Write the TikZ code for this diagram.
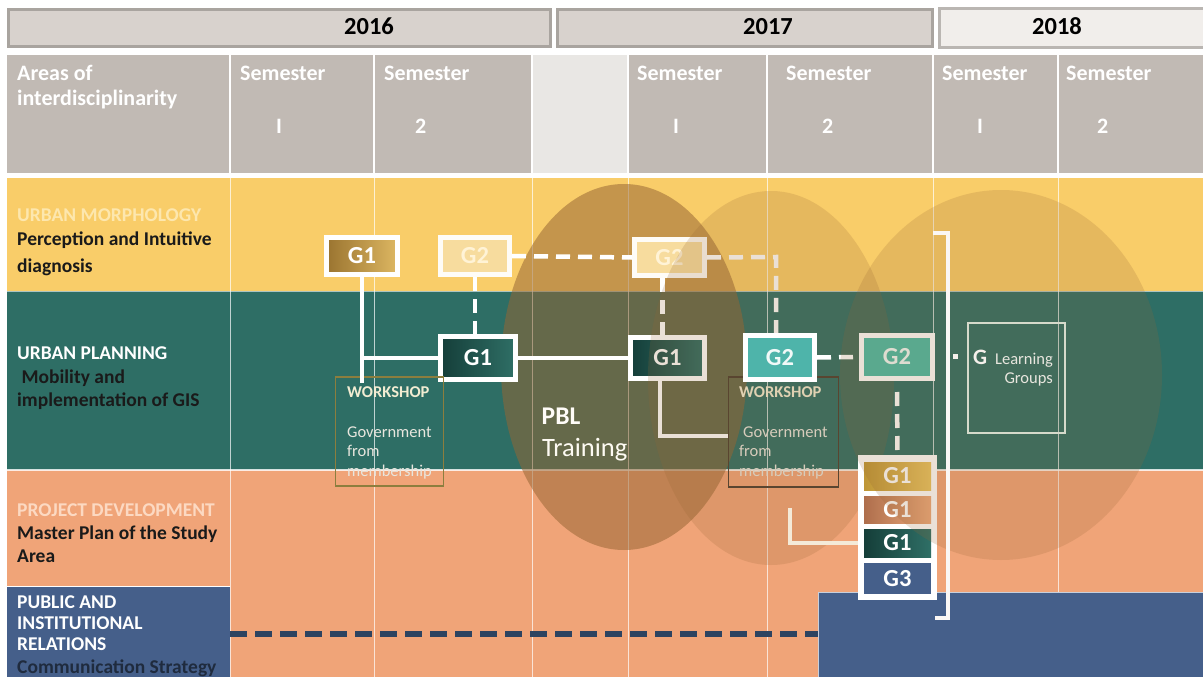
\documentclass[tikz,border=0pt]{standalone}
\usepackage{fontspec}
\setmainfont{Carlito}
\definecolor{yel}{HTML}{F9CD69}
\definecolor{tealrow}{HTML}{2E6E65}
\definecolor{salm}{HTML}{F0A478}
\definecolor{navy}{HTML}{455F8A}
\definecolor{dashnavy}{HTML}{2D4360}
\definecolor{hdrgray}{HTML}{C1BAB4}
\definecolor{hdrlight}{HTML}{E9E7E4}
\definecolor{yearfill}{HTML}{D8D2CD}
\definecolor{yearline}{HTML}{A9A49F}
\definecolor{yearfillb}{HTML}{F1EEEB}
\definecolor{ebrown}{HTML}{966533}
\definecolor{morph}{HTML}{FDE7AE}
\definecolor{projd}{HTML}{FCD9C2}
\definecolor{darktxt}{HTML}{1A1A1A}
\definecolor{commtxt}{HTML}{1F2B3E}
\definecolor{g2light}{HTML}{F7DC9E}
\definecolor{g2txt}{HTML}{FFF3D6}
\definecolor{goldA}{HTML}{9A7430}
\definecolor{goldB}{HTML}{DDB762}
\definecolor{dtealA}{HTML}{153E39}
\definecolor{dtealB}{HTML}{2F6F66}
\definecolor{lteal}{HTML}{4EB4AA}
\definecolor{lteal2}{HTML}{4CBBA5}
\definecolor{sgoldA}{HTML}{BE9636}
\definecolor{sgoldB}{HTML}{EAC562}
\definecolor{sbrA}{HTML}{AE6E4C}
\definecolor{sbrB}{HTML}{EDAA7C}
\definecolor{wsA}{HTML}{8C7E3E}
\definecolor{wsB}{HTML}{4A3E30}
\definecolor{wstxt}{HTML}{F2ECD2}
\definecolor{wsgov}{HTML}{E8E6DE}
\definecolor{lgline}{HTML}{D6DACB}
\definecolor{cream}{HTML}{F4EAD8}

\newcommand\myfs[1]{\fontsize{#1}{#1}\selectfont}

\begin{document}
\begin{tikzpicture}[x=1pt,y=-1pt,
 txt/.style={anchor=base west, inner sep=0pt},
 yr/.style={anchor=base, inner sep=0pt, font={\bfseries\myfs{24.5}}, text=black},
 hd/.style={txt, font={\bfseries\myfs{22}}, text=white},
 rl/.style={txt, font={\bfseries\myfs{19.5}}},
 gbox/.style={draw=white, line width=5pt, inner sep=0pt, text=white, font={\bfseries\myfs{24.5}}},
 cell/.style={inner sep=0pt, text=white, font={\bfseries\myfs{24.5}}, minimum width=67pt},
 solidc/.style={draw=white, line width=4pt},
 dashc/.style={draw=white, line width=4.5pt, dash pattern=on 14pt off 8pt},
 vline/.style={draw=white, line width=1pt, opacity=.7},
 wtxt/.style={txt, font={\bfseries\myfs{16.5}}, text=wstxt},
 gtxt/.style={txt, font={\myfs{16.5}}, text=wsgov},
 wbox/.style={line width=1.3pt, inner sep=0pt},
]
\fill[white] (0,0) rectangle (1203,677);
\useasboundingbox (0,0) rectangle (1203,677);

% year bar
\filldraw[fill=yearfill, draw=yearline, line width=3pt] (8.5,9.5) rectangle (550.5,46.5);
\filldraw[fill=yearfill, draw=yearline, line width=3pt] (557.5,9.5) rectangle (932.5,46.5);
\filldraw[fill=yearfillb, draw=yearline!80, line width=3pt] (939.5,8.5) rectangle (1210,47.5);
\node[yr] (y16) at (369,35) {2016};
\node[yr] (y17) at (768,35) {2017};
\node[yr] (y18) at (1057,35) {2018};

% header
\fill[hdrgray] (7,55) rectangle (1203,173);
\fill[hdrlight] (532,55) rectangle (628,173);
\foreach \x in {230,374,532,628,767,933,1058} \draw[white, line width=2pt] (\x,55) -- (\x,173);
\node[hd] (h1) at (17,81) {Areas of};
\node[hd] (h2) at (17,106) {interdisciplinarity};
\node[hd] (s1a) at (240,81) {Semester};
\node[hd] (s1b) at (276,133) {I};
\node[hd] (s2a) at (384,81) {Semester};
\node[hd] (s2b) at (415,133) {2};
\node[hd] (s3a) at (637,81) {Semester};
\node[hd] (s3b) at (673,133) {I};
\node[hd] (s4a) at (786,81) {Semester};
\node[hd] (s4b) at (822,133) {2};
\node[hd] (s5a) at (942,81) {Semester};
\node[hd] (s5b) at (977,133) {I};
\node[hd] (s6a) at (1066,81) {Semester};
\node[hd] (s6b) at (1097,133) {2};

% rows
\fill[yel] (7,178) rectangle (1203,291);
\fill[tealrow] (7,291) rectangle (1203,470);
\fill[salm] (7,470) rectangle (1203,677);
\fill[navy] (7,587) rectangle (230,677);
\draw[white, line width=1pt, opacity=.6] (7,291.5) -- (1203,291.5);
\draw[white, line width=1.2pt, opacity=.8] (7,470) -- (1203,470);
\draw[white, line width=1pt] (7,586) -- (230,586);
\foreach \x in {230,374,532,628,767,933,1058} \draw[vline] (\x,178) -- (\x,677);
\filldraw[fill=navy, draw=white!70!navy, line width=1pt] (818,592) rectangle (1210,680);

% row labels
\node[rl, text=morph] (r1a) at (17,221) {URBAN MORPHOLOGY};
\node[rl, text=darktxt] (r1b) at (17,245) {Perception and Intuitive};
\node[rl, text=darktxt] (r1c) at (17,272) {diagnosis};
\node[rl, text=white] (r2a) at (17,359) {URBAN PLANNING};
\node[rl, text=darktxt] (r2b) at (17,383) {\ Mobility and};
\node[rl, text=darktxt] (r2c) at (17,406) {implementation of GIS};
\node[rl, text=projd] (r3a) at (17,516) {PROJECT DEVELOPMENT};
\node[rl, text=darktxt] (r3b) at (17,539) {Master Plan of the Study};
\node[rl, text=darktxt] (r3c) at (17,562) {Area};
\node[rl, text=white] (r4a) at (17,608) {PUBLIC AND};
\node[rl, text=white] (r4b) at (17,629) {INSTITUTIONAL};
\node[rl, text=white] (r4c) at (17,650) {RELATIONS};
\node[rl, text=commtxt] (r4d) at (17,673) {Communication Strategy};

% dashed navy line
\coordinate (j5) at (230,634);
\coordinate (pubw) at (818,634);
\draw[dashnavy, line width=5.5pt, dash pattern=on 17pt off 8pt] (j5) -- (pubw);

% ellipse 1
\fill[ebrown, opacity=.53] (624,367) ellipse [x radius=123pt, y radius=183pt];

% boxes
\node[gbox, minimum width=71pt, minimum height=37pt, left color=goldA, right color=goldB] (g1a) at (362,256) {G1};
\node[gbox, minimum width=69pt, minimum height=37pt, fill=g2light, draw=white!92!g2light, text=g2txt] (g2a) at (475,256) {G2};
\node[gbox, minimum width=70pt, minimum height=36pt, fill=g2light, draw=white!92!g2light, text=g2txt] (g2b) at (669.5,257.5) {G2};
\node[gbox, minimum width=75pt, minimum height=43pt, left color=dtealA, right color=dtealB] (g1b) at (478,358) {G1};
\node[gbox, minimum width=74pt, minimum height=41pt, left color=dtealA, right color=dtealB] (g1c) at (667.5,358) {G1};

% workshop boxes
\node[wbox, draw=wsA, minimum width=108pt, minimum height=109pt] (w1) at (389.5,431.5) {};
\node[wbox, draw=wsB, minimum width=110pt, minimum height=110pt] (w2) at (783.5,432) {};
\node[wtxt] (w1t) at (347,397) {WORKSHOP};
\node[gtxt] (w1g) at (347,437) {Government};
\node[gtxt] (w1f) at (347,456) {from};
\node[gtxt] (w1m) at (347,476) {membership};
\node[wtxt] (w2t) at (739,397.5) {WORKSHOP};
\node[gtxt] (w2g) at (743,437.5) {Government};
\node[gtxt] (w2f) at (739,456.5) {from};
\node[gtxt] (w2m) at (739,476.5) {membership};

% PBL
\node[txt, font={\bfseries\myfs{25.5}}, text=white!95!yel] (pbl) at (541.5,424) {PBL};
\node[txt, font={\myfs{26.5}}, text=white!92!yel] (trn) at (542,456) {Training};

% connectors (under ellipse 2)
\coordinate (j1) at (362,383);
\coordinate (j2) at (362,358);
\coordinate (k1) at (776,257);
\coordinate (k2) at (776,333);
\coordinate (j3) at (728,436);
\draw[solidc] (g1a.south) -- (j1);
\draw[solidc] (j2) -- (g1b.west);
\draw[dashc] (g2a.south) -- (g2a.south |- g1b.north);
\draw[dashc] (g2a.east) -- (g2b.west);
\draw[dashc] (g2b.east) -- (k1) -- (k2);
\draw[dashc] ([xshift=-7pt]g2b.south) -- ([xshift=-7pt]g2b.south |- g1c.north);
\draw[solidc] (g1b.east) -- (g1c.west);
\draw[solidc] ([xshift=-8pt]g1c.south) |- (j3);

% ellipse 2
\fill[ebrown, opacity=.2] (771,378) ellipse [x radius=123pt, y radius=187pt];

% G2 third, G2 fourth, stack
\node[gbox, minimum width=69pt, minimum height=44pt, fill=lteal, text=white!92!lteal] (g2c) at (780,357.5) {G2};
\node[gbox, minimum width=71pt, minimum height=43pt, fill=lteal2, text=white!92!lteal2] (g2d) at (897,357) {G2};
\draw[dashc] (g2c.east) -- (g2d.west);
\node[fill=white, minimum width=79pt, minimum height=145pt, inner sep=0pt] (stk) at (897.5,527.5) {};
\node[cell, minimum height=28pt, left color=sgoldA, right color=sgoldB] (c1) at (897.5,476) {G1};
\node[cell, minimum height=27pt, left color=sbrA, right color=sbrB] (c2) at (897.5,509.5) {G1};
\node[cell, minimum height=28pt, left color=dtealA, right color=dtealB] (c3) at (897.5,543) {G1};
\node[cell, minimum height=31pt, fill=navy] (c4) at (897.5,578.5) {G3};
\draw[dashc] ([yshift=-11pt]g2d.south) -- (stk.north);
\coordinate (j4) at (790,508);
\draw[draw=cream, line width=4pt] (j4) |- (stk.west |- c3.west);

% ellipse 3
\fill[ebrown, opacity=.2] (1001,375) ellipse [x radius=161pt, y radius=185pt];

% bracket and learning groups
\coordinate (b1) at (933,233);
\coordinate (b2) at (935,618);
\draw[white!95!ebrown, line width=3.5pt] (b1) -- (948,233) -- (948,618) -- (b2);
\fill[white!90!ebrown] (953,354) rectangle (958,359);
\draw[lgline, line width=1.2pt] (968,323) rectangle (1065,433);
\node[txt, font={\bfseries\myfs{22}}, text=white!90!ebrown] (lgG) at (973,364) {G};
\node[anchor=base east, inner sep=0pt, font={\myfs{16.5}}, text=wsgov] (lgL) at (1053,364) {Learning};
\node[anchor=base east, inner sep=0pt, font={\myfs{16.5}}, text=wsgov] (lgR) at (1053,383.5) {Groups};
\end{tikzpicture}
\end{document}
